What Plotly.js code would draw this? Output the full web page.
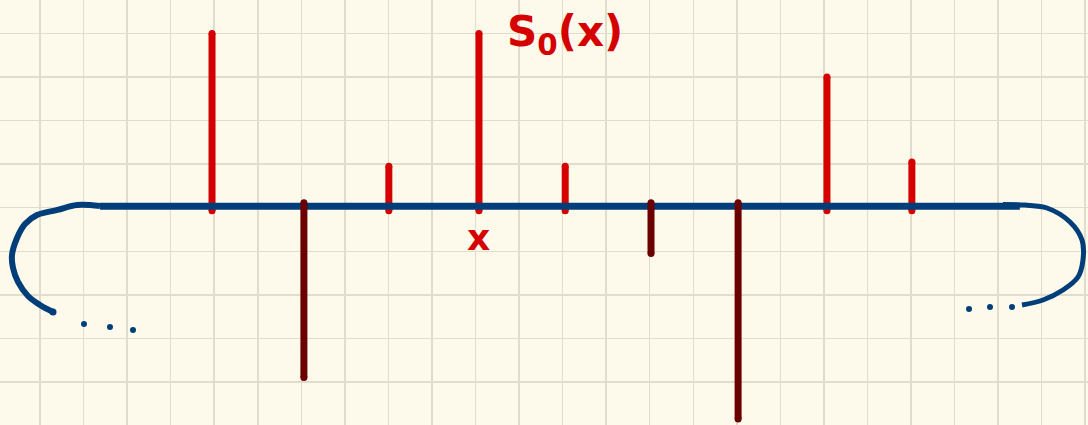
<!DOCTYPE html>
<html>
<head>
<meta charset="utf-8">
<script src="https://cdn.plot.ly/plotly-3.0.1.min.js"></script>
<style>
  html, body { margin: 0; padding: 0; background: #fdfaec; }
  #chart { width: 1088px; height: 425px; }
</style>
</head>
<body>
<div id="chart"></div>
<script>
// Sample positions (grid units) and signed sample values of the sampled signal
const samplePositions = [3.95, 6.06, 8.01, 10.08, 12.06, 14.03, 16.03, 18.07, 20.02];
const sampleValues    = [4.0, -3.9, 0.95, 4.0, 0.95, -1.05, -4.85, 3.0, 1.05];

// Level of the drawn axis line
const baseLevel = 0.035;
const axisStart = 1.378;
const axisEnd = 22.5;

// Hand-drawn wrap-around ends of the axis (grid units)
const leftCurveX = [1.378, 0.85, 0.40, -0.069, -0.344, -0.528, -0.643, -0.620, -0.505, -0.276, 0.0, 0.299];
const leftCurveY = [0.039, 0.062, -0.05, -0.168, -0.374, -0.695, -1.085, -1.384, -1.705, -2.027, -2.233, -2.394];
const leftDotsX = [1.010, 1.607, 2.135];
const leftDotsY = [-2.671, -2.739, -2.808];

const rightCurveX = [22.112, 22.62, 23.123, 23.651, 23.927, 23.949, 23.835, 23.490, 23.031, 22.549];
const rightCurveY = [0.075, 0.06, -0.007, -0.329, -0.742, -1.201, -1.591, -1.890, -2.119, -2.234];
const rightDotsX = [21.332, 21.814, 22.319];
const rightDotsY = [-2.326, -2.280, -2.280];

// Text labels
const curveLabel = 'S<sub>0</sub>(x)';
const curveLabelPos = [10.68, 3.98];
const pointLabel = 'x';
const pointLabelPos = [10.08, -0.673];

const RED = '#d50000';
const DARK_RED = '#6b0000';
const BLUE = '#003e7a';

// Build stem segments (null-separated) for positive and negative samples
function stems(sign) {
  const xs = [], ys = [];
  samplePositions.forEach((x, i) => {
    const v = sampleValues[i];
    if ((sign > 0 && v > 0) || (sign < 0 && v < 0)) {
      xs.push(x, x, null);
      ys.push(sign > 0 ? -0.07 : baseLevel + 0.08, v, null);
    }
  });
  return { xs, ys };
}
const pos = stems(1);
const neg = stems(-1);

const traces = [
  {
    x: pos.xs, y: pos.ys, mode: 'lines+markers', hoverinfo: 'skip',
    line: { color: RED, width: 7 },
    marker: { color: RED, size: 7 }
  },
  {
    x: [axisStart, axisEnd], y: [baseLevel, baseLevel], mode: 'lines', hoverinfo: 'skip',
    line: { color: BLUE, width: 7 }
  },
  {
    x: leftCurveX, y: leftCurveY, mode: 'lines', hoverinfo: 'skip',
    line: { color: BLUE, width: 6, shape: 'spline', smoothing: 1 }
  },
  {
    x: [leftCurveX[leftCurveX.length - 1]], y: [leftCurveY[leftCurveY.length - 1]],
    mode: 'markers', hoverinfo: 'skip', marker: { color: BLUE, size: 7 }
  },
  {
    x: rightCurveX, y: rightCurveY, mode: 'lines', hoverinfo: 'skip',
    line: { color: BLUE, width: 5, shape: 'spline', smoothing: 1 }
  },
  {
    x: leftDotsX.concat(rightDotsX), y: leftDotsY.concat(rightDotsY),
    mode: 'markers', hoverinfo: 'skip', marker: { color: BLUE, size: 6 }
  },
  {
    x: neg.xs, y: neg.ys, mode: 'lines+markers', hoverinfo: 'skip',
    line: { color: DARK_RED, width: 7 },
    marker: { color: DARK_RED, size: 7 }
  }
];

const unit = 43.55;
const layout = {
  width: 1088, height: 425,
  margin: { l: 0, r: 0, t: 0, b: 0 },
  paper_bgcolor: '#fdfaec',
  plot_bgcolor: '#fdfaec',
  showlegend: false,
  xaxis: {
    range: [-40 / unit, (1088 - 40) / unit],
    tick0: 0, dtick: 1,
    showgrid: true, gridcolor: '#e1ddcc', gridwidth: 1.5,
    zeroline: false, showticklabels: false, ticks: '', showline: false, fixedrange: true
  },
  yaxis: {
    range: [-(425 - 207.7) / unit, 207.7 / unit],
    tick0: 0, dtick: 1,
    showgrid: true, gridcolor: '#e1ddcc', gridwidth: 1.5,
    zeroline: false, showticklabels: false, ticks: '', showline: false, fixedrange: true
  },
  annotations: [
    {
      x: curveLabelPos[0], y: curveLabelPos[1], text: curveLabel,
      xanchor: 'left', yanchor: 'middle', showarrow: false,
      font: { family: 'DejaVu Sans', size: 42, color: RED, weight: 'bold' }
    },
    {
      x: pointLabelPos[0], y: pointLabelPos[1], text: pointLabel,
      xanchor: 'center', yanchor: 'middle', showarrow: false,
      font: { family: 'DejaVu Sans', size: 36, color: RED, weight: 'bold' }
    }
  ]
};

Plotly.newPlot('chart', traces, layout, { staticPlot: true, displayModeBar: false });
</script>
</body>
</html>
